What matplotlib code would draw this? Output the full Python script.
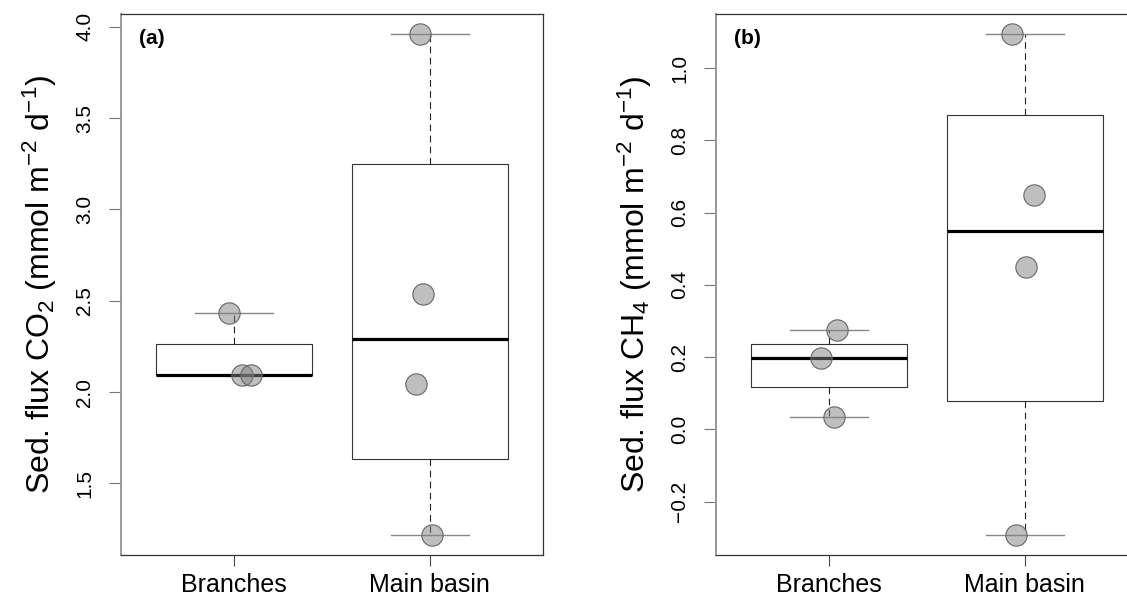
import numpy as np
import matplotlib
matplotlib.use("Agg")
import matplotlib.pyplot as plt

plt.rcParams['font.family'] = ['Liberation Sans', 'DejaVu Sans']
plt.rcParams['mathtext.fontset'] = 'custom'
plt.rcParams['mathtext.rm'] = 'Liberation Sans'
plt.rcParams['mathtext.it'] = 'Liberation Sans:italic'
plt.rcParams['mathtext.bf'] = 'Liberation Sans:bold'

# data
groups = ["Branches", "Main basin"]

co2_branches = [2.435, 2.096, 2.096]
co2_main = [3.958, 2.536, 2.046, 1.218]
ch4_branches = [0.274, 0.198, 0.035]
ch4_main = [1.093, 0.649, 0.450, -0.292]

# horizontal jitter of the points (same order as the values)
co2_branches_jit = [-0.025, 0.040, 0.084]
co2_main_jit = [-0.051, -0.035, -0.071, 0.010]
ch4_branches_jit = [0.041, -0.043, 0.026]
ch4_main_jit = [-0.063, 0.050, 0.006, -0.046]

co2_ticks = [1.5, 2.0, 2.5, 3.0, 3.5, 4.0]
ch4_ticks = [-0.2, 0.0, 0.2, 0.4, 0.6, 0.8, 1.0]

co2_label = r"Sed. flux CO$_2$ (mmol m$^{-2}$ d$^{-1}$)"
ch4_label = r"Sed. flux CH$_4$ (mmol m$^{-2}$ d$^{-1}$)"


def fivenum_stats(vals):
    """R-style boxplot stats (Tukey hinges, whiskers to min/max)."""
    x = np.sort(np.asarray(vals, dtype=float))
    q1, med, q3 = np.percentile(x, [25, 50, 75], method='midpoint')
    return dict(med=med, q1=q1, q3=q3, whislo=x.min(), whishi=x.max(), fliers=[])


def draw_panel(ax, data, jitters, ticks, ylabel, tag):
    stats = [fivenum_stats(d) for d in data]
    ax.bxp(stats, positions=[1, 2], widths=0.8, capwidths=0.4,
           patch_artist=True, showfliers=False,
           boxprops=dict(facecolor='white', edgecolor='#333333', linewidth=0.8),
           medianprops=dict(color='black', linewidth=2.3),
           whiskerprops=dict(color='#222222', linewidth=0.8, linestyle=(0, (6, 4))),
           capprops=dict(color='#888888', linewidth=1.0))

    for i, (vals, jit) in enumerate(zip(data, jitters)):
        xs = np.array(jit) + i + 1
        ax.scatter(xs, vals, s=235, facecolor=(0.5, 0.5, 0.5, 0.5),
                   edgecolor='#666666', linewidth=0.8, zorder=5)

    allv = np.concatenate([np.asarray(d, float) for d in data])
    lo, hi = allv.min(), allv.max()
    pad = 0.04 * (hi - lo)
    ax.set_ylim(lo - pad, hi + pad)
    ax.set_xlim(0.42, 2.58)

    ax.set_xticks([1, 2])
    ax.set_xticklabels(groups, fontsize=18)
    ax.set_yticks(ticks)
    ax.set_yticklabels([f"{t:.1f}".replace("-", "\u2212") for t in ticks],
                       rotation=90, va='center', fontsize=15)
    ax.tick_params(axis='x', length=8, width=0.8, color='#444444', pad=5)
    ax.tick_params(axis='y', length=8.4, width=0.8, color='#777777', pad=11)

    for s in ['top', 'right', 'bottom']:
        ax.spines[s].set_color('#333333')
        ax.spines[s].set_linewidth(0.9)
    ax.spines['left'].set_color('#999999')
    ax.spines['left'].set_linewidth(1.4)

    ax.text(-0.192, 0.5, ylabel, transform=ax.transAxes, rotation=90,
            ha='center', va='center', fontsize=23)
    ax.text(0.043, 0.956, tag, transform=ax.transAxes, ha='left', va='center',
            fontsize=15, fontweight='bold')


fig = plt.figure(figsize=(11.27, 6), dpi=100)
ax_a = fig.add_axes([121 / 1127, 45 / 600, 422 / 1127, 540.7 / 600])
ax_b = fig.add_axes([716 / 1127, 45 / 600, 422 / 1127, 540.7 / 600])

draw_panel(ax_a, [co2_branches, co2_main], [co2_branches_jit, co2_main_jit],
           co2_ticks, co2_label, "(a)")
draw_panel(ax_b, [ch4_branches, ch4_main], [ch4_branches_jit, ch4_main_jit],
           ch4_ticks, ch4_label, "(b)")

fig.savefig("out.png", dpi=100)
